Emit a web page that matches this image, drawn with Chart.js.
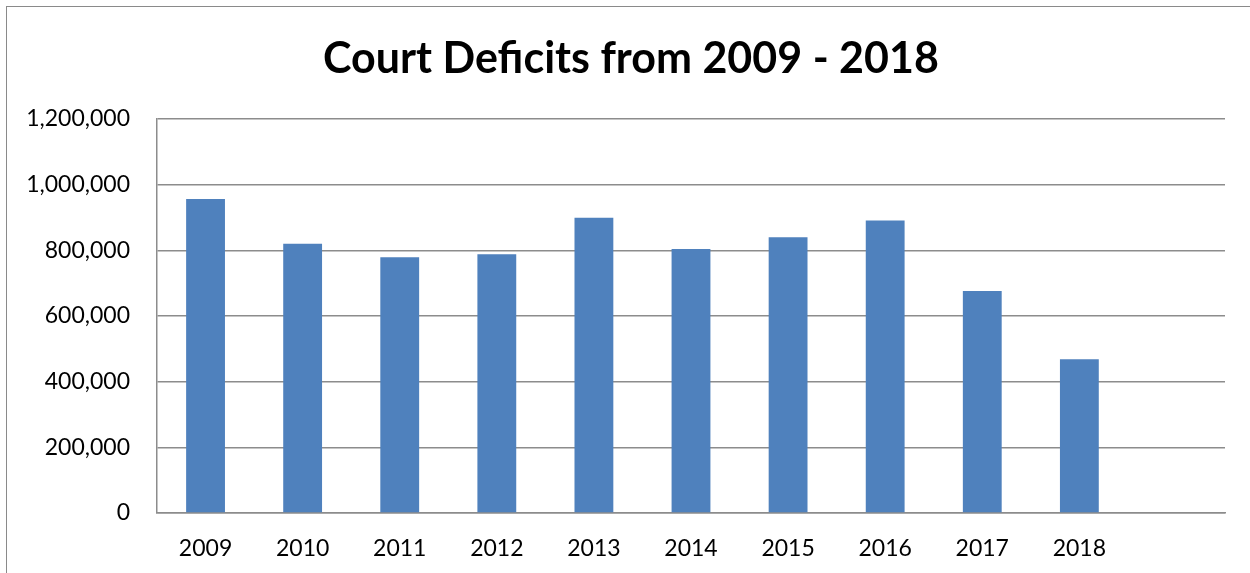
<!DOCTYPE html>
<html>
<head>
<meta charset="utf-8">
<title>Court Deficits from 2009 - 2018</title>
<script src="https://cdn.jsdelivr.net/npm/chart.js@4"></script>
<style>
  html, body { margin: 0; padding: 0; background: #fff; overflow: hidden; }
  #wrap { position: relative; width: 1250px; height: 573px; }
  #frame {
    position: absolute; left: 6px; top: 6px; width: 1300px; height: 700px;
    border: 1.5px solid #8a8a8a; box-sizing: border-box;
  }
  canvas { position: absolute; left: 0; top: 0; }
</style>
</head>
<body>
<div id="wrap">
  <div id="frame"></div>
  <canvas id="chart" width="1250" height="573"></canvas>
</div>
<script>
  /* ---------- Data ---------- */
  // last category is the empty slot Excel leaves at the right end of the axis
  const years = ['2009', '2010', '2011', '2012', '2013', '2014', '2015', '2016', '2017', '2018', ''];
  const deficits = [956000, 820000, 779000, 788000, 899000, 804000, 840000, 891000, 676000, 468000];
  const yTicks = [0, 200000, 400000, 600000, 800000, 1000000, 1200000];
  const chartTitle = 'Court Deficits from 2009 - 2018';

  const FONT = "Lato, 'Open Sans', sans-serif";
  const GRID = '#8c8c8c';

  // title is centred on the outer frame, not on the plot area
  const frameTitle = {
    id: 'frameTitle',
    afterDraw(chart) {
      const ctx = chart.ctx;
      ctx.save();
      ctx.font = `bold 43px ${FONT}`;
      ctx.fillStyle = '#000';
      ctx.textAlign = 'center';
      ctx.textBaseline = 'alphabetic';
      ctx.fillText(chartTitle, 631, 73);
      ctx.restore();
    }
  };

  new Chart(document.getElementById('chart'), {
    type: 'bar',
    data: {
      labels: years,
      datasets: [{
        label: 'Court Deficits',
        data: deficits,
        backgroundColor: '#4f81bd',
        borderWidth: 0,
        barPercentage: 0.4,
        categoryPercentage: 1
      }]
    },
    options: {
      responsive: false,
      animation: false,
      layout: { padding: { left: 12, right: 25, top: 119, bottom: 0 } },
      plugins: {
        legend: { display: false },
        tooltip: { enabled: false },
        title: { display: false }
      },
      scales: {
        x: {
          grid: { display: false, drawTicks: false },
          border: { display: true, color: GRID, width: 1.5 },
          ticks: {
            color: '#000',
            font: { family: FONT, size: 23 },
            padding: 22,
            maxRotation: 0
          },
          afterFit: (s) => { s.height = 60; }
        },
        y: {
          min: 0,
          max: yTicks[yTicks.length - 1],
          afterBuildTicks: (s) => { s.ticks = yTicks.map(v => ({ value: v })); },
          grid: { color: GRID, lineWidth: 1.5, drawTicks: false },
          border: { display: true, color: GRID, width: 1.5 },
          ticks: {
            color: '#000',
            font: { family: FONT, size: 23 },
            padding: 27,
            callback: (v) => Number(v).toLocaleString('en-US')
          },
          afterFit: (s) => { s.width = 145; }
        }
      }
    },
    plugins: [frameTitle]
  });
</script>
</body>
</html>
